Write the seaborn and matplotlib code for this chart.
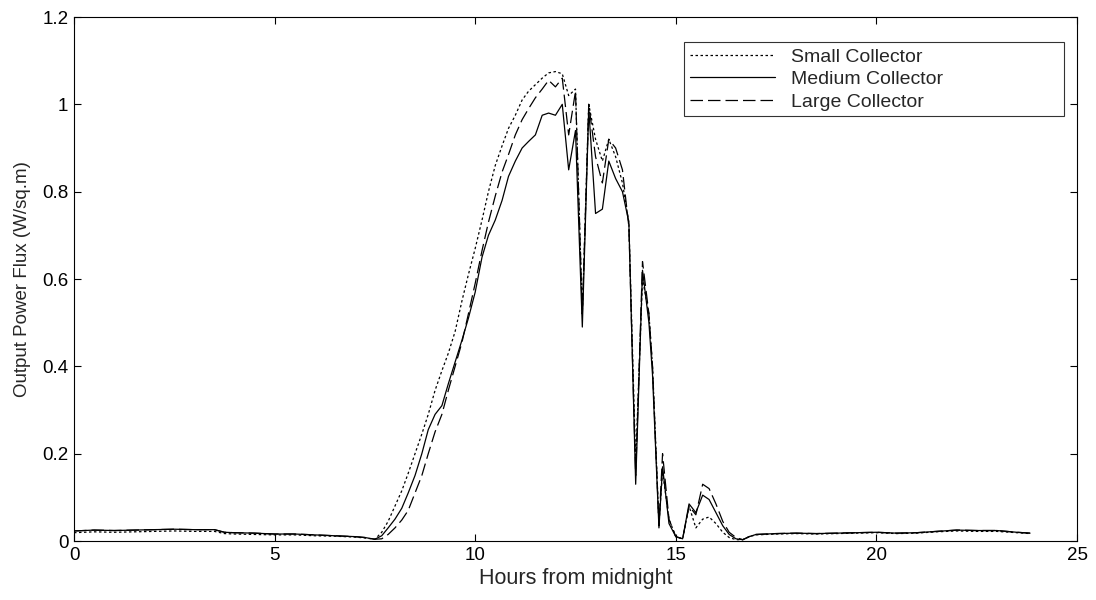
import numpy as np
import pandas as pd
import matplotlib
matplotlib.use("Agg")
import matplotlib.pyplot as plt
import seaborn as sns

hours = [0, 0.5, 1, 1.5, 2, 2.5, 3, 3.5, 3.75, 4, 4.5, 5, 5.5, 6, 6.5, 7, 7.25, 7.5,
         7.67, 7.83, 8.0, 8.17, 8.33, 8.5, 8.67, 8.83, 9.0, 9.17, 9.33, 9.5, 9.67, 9.83,
         10.0, 10.17, 10.33, 10.5, 10.67, 10.83, 11.0, 11.17, 11.33, 11.5, 11.67, 11.83,
         12.0, 12.17, 12.33, 12.5, 12.67, 12.83, 13.0, 13.17, 13.33, 13.5, 13.67, 13.83,
         14.0, 14.17, 14.33, 14.42, 14.58, 14.67, 14.83, 15.0, 15.17, 15.33, 15.5, 15.67, 15.83,
         16.0, 16.17, 16.33, 16.5, 16.67, 16.83, 17.0, 17.5, 18, 18.5, 19, 19.5, 20, 20.5,
         21, 21.5, 22, 22.5, 23, 23.5, 23.83]

small = [0.019, 0.021, 0.020, 0.021, 0.022, 0.023, 0.022, 0.022, 0.017, 0.016, 0.015, 0.014,
         0.014, 0.012, 0.011, 0.009, 0.007, 0.004,
         0.020, 0.045, 0.080, 0.115, 0.155, 0.200, 0.245, 0.290, 0.345, 0.390, 0.430, 0.480,
         0.550, 0.610,
         0.670, 0.735, 0.800, 0.860, 0.905, 0.945, 0.975, 1.010, 1.030, 1.045, 1.060, 1.072,
         1.075, 1.070, 1.020, 1.035, 0.520, 1.000, 0.920, 0.870, 0.920, 0.880, 0.820, 0.730,
         0.180, 0.600, 0.520, 0.400, 0.040, 0.160, 0.050, 0.010, 0.005, 0.080, 0.030, 0.050, 0.055,
         0.040, 0.020, 0.008, 0.003, 0.003, 0.010, 0.014, 0.016, 0.017, 0.016, 0.017, 0.018,
         0.019, 0.017, 0.018, 0.021, 0.023, 0.022, 0.022, 0.019, 0.017]

medium = [0.023, 0.025, 0.024, 0.025, 0.026, 0.027, 0.026, 0.026, 0.020, 0.019, 0.018, 0.016,
          0.016, 0.014, 0.012, 0.010, 0.008, 0.004,
          0.012, 0.030, 0.050, 0.075, 0.110, 0.150, 0.200, 0.255, 0.290, 0.310, 0.360, 0.410,
          0.460, 0.510,
          0.570, 0.650, 0.700, 0.735, 0.780, 0.835, 0.870, 0.900, 0.915, 0.930, 0.975, 0.980,
          0.975, 1.000, 0.850, 0.940, 0.490, 0.990, 0.750, 0.760, 0.870, 0.830, 0.800, 0.730,
          0.130, 0.620, 0.500, 0.380, 0.030, 0.170, 0.040, 0.010, 0.005, 0.085, 0.065, 0.105, 0.095,
          0.065, 0.035, 0.015, 0.005, 0.003, 0.010, 0.015, 0.017, 0.018, 0.017, 0.018, 0.019,
          0.020, 0.018, 0.019, 0.022, 0.025, 0.024, 0.024, 0.020, 0.018]

large = [0.023, 0.025, 0.024, 0.025, 0.026, 0.027, 0.026, 0.026, 0.020, 0.019, 0.018, 0.016,
         0.016, 0.014, 0.012, 0.010, 0.008, 0.004,
         0.005, 0.015, 0.030, 0.048, 0.070, 0.110, 0.150, 0.200, 0.250, 0.290, 0.345, 0.400,
         0.455, 0.520,
         0.590, 0.665, 0.730, 0.790, 0.845, 0.885, 0.930, 0.965, 0.990, 1.015, 1.035, 1.055,
         1.040, 1.060, 0.930, 1.030, 0.520, 1.000, 0.880, 0.820, 0.920, 0.900, 0.850, 0.720,
         0.150, 0.640, 0.520, 0.400, 0.035, 0.200, 0.050, 0.010, 0.005, 0.080, 0.060, 0.130, 0.120,
         0.085, 0.045, 0.020, 0.008, 0.003, 0.010, 0.015, 0.017, 0.018, 0.017, 0.018, 0.019,
         0.020, 0.018, 0.019, 0.022, 0.025, 0.024, 0.024, 0.020, 0.018]

series_names = ["Small Collector", "Medium Collector", "Large Collector"]
x_ticks = [0, 5, 10, 15, 20, 25]
y_ticks = [0, 0.2, 0.4, 0.6, 0.8, 1.0, 1.2]
y_tick_labels = ["0", "0.2", "0.4", "0.6", "0.8", "1", "1.2"]

df = pd.concat([
    pd.DataFrame({"hours": hours, "flux": small, "series": series_names[0]}),
    pd.DataFrame({"hours": hours, "flux": medium, "series": series_names[1]}),
    pd.DataFrame({"hours": hours, "flux": large, "series": series_names[2]}),
], ignore_index=True)

sns.set_theme(style="white")
plt.rcParams["font.family"] = ["Liberation Sans", "DejaVu Sans"]

fig = plt.figure(figsize=(10.96, 6.0), dpi=100)
ax = fig.add_axes([74 / 1096, 1 - 541 / 600, (1077 - 74) / 1096, (541 - 17) / 600])

dash_map = {series_names[0]: (2, 2), series_names[1]: "", series_names[2]: (10, 4)}
sns.lineplot(data=df, x="hours", y="flux", hue="series", style="series",
             palette=["black", "black", "black"], dashes=dash_map,
             hue_order=series_names, style_order=series_names,
             linewidth=0.9, ax=ax, sort=False, estimator=None)

ax.set_xlim(0, 25)
ax.set_ylim(0, 1.2)
ax.set_xticks(x_ticks)
ax.set_xticklabels([str(t) for t in x_ticks])
ax.set_yticks(y_ticks)
ax.set_yticklabels(y_tick_labels)
ax.tick_params(axis="both", direction="in", length=5, width=0.8, labelsize=13.5,
               top=True, right=True, bottom=True, left=True, colors="black", pad=4)
for s in ax.spines.values():
    s.set_visible(True)
    s.set_color("black")
    s.set_linewidth(0.8)

ax.set_xlabel("Hours from midnight", fontsize=15.5, labelpad=3)
ax.set_ylabel("Output Power Flux (W/sq.m)", fontsize=13.5, labelpad=8)

leg = ax.legend(loc="upper left", fontsize=14, handlelength=4.4, handletextpad=0.8,
                frameon=True, fancybox=False, edgecolor="black", borderpad=0.3,
                labelspacing=0.25, mode="expand", borderaxespad=0,
                bbox_to_anchor=(0.608, 0.813, 0.379, 0.139))
leg.get_frame().set_linewidth(0.8)

fig.savefig("out.png", dpi=100, facecolor="white")
